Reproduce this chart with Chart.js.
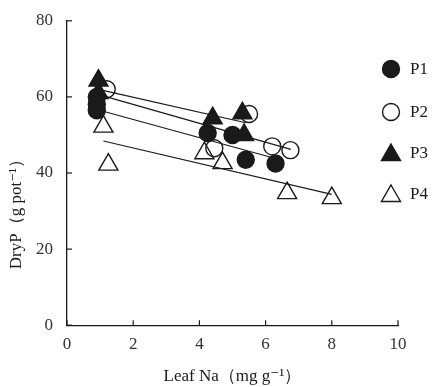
<!DOCTYPE html>
<html>
<head>
<meta charset="utf-8">
<script src="https://cdn.jsdelivr.net/npm/chart.js@4/dist/chart.umd.min.js"></script>
<style>
  html, body { margin: 0; padding: 0; background: #fff; }
  #wrap { width: 433px; height: 387px; }
</style>
</head>
<body>
<div id="wrap"><canvas id="myChart" width="433" height="387"></canvas></div>
<script>
// values
const xTicks = [0, 2, 4, 6, 8, 10];
const yTicks = [0, 20, 40, 60, 80];

const p1X = [0.9, 0.9, 0.9, 4.25, 5.0, 5.4, 6.3];
const p1Y = [60, 58, 56.5, 50.5, 50, 43.5, 42.5];
const p2X = [1.2, 4.45, 5.5, 6.2, 6.75];
const p2Y = [62, 46.5, 55.5, 47, 46];
const p3X = [0.95, 0.95, 4.4, 5.3, 5.35];
const p3Y = [64.3, 61, 54.4, 55.7, 50];
const p4X = [1.1, 1.25, 4.15, 4.7, 6.65, 8.0];
const p4Y = [52.2, 42.2, 45.2, 42.6, 34.7, 33.4];

// fitted lines, end points
const fitP1X = [0.9, 6.3], fitP1Y = [56.7, 43.8];
const fitP2X = [1.2, 6.76], fitP2Y = [60.0, 46.2];
const fitP3X = [0.95, 5.4], fitP3Y = [62.0, 53.2];
const fitP4X = [1.1, 8.0], fitP4Y = [48.4, 34.4];

const seriesNames = ['P1', 'P2', 'P3', 'P4'];

const toPts = (xs, ys) => xs.map((x, i) => ({x: x, y: ys[i]}));
const serif = "'Liberation Serif', 'DejaVu Serif', serif";
const ink = '#1a1a1a';

function markSet(label, xs, ys, style, filled, order) {
	return {
		label: label,
		data: toPts(xs, ys),
		pointStyle: style,
		pointRadius: style === 'triangle' ? 11 : 8.5,
		pointBorderWidth: 1.4,
		pointBorderColor: ink,
		pointBackgroundColor: filled ? ink : 'rgba(0,0,0,0)',
		showLine: false,
		order: order
	};
}
function fitSet(xs, ys) {
	return {
		label: 'fit',
		data: toPts(xs, ys),
		showLine: true,
		borderColor: ink,
		borderWidth: 1.2,
		pointRadius: 0,
		order: 10
	};
}

function drawMark(ctx, style, filled, x, y) {
	ctx.beginPath();
	if (style === 'circle') {
		ctx.arc(x, y, 8.5, 0, Math.PI * 2);
	} else {
		const r = 11;
		ctx.moveTo(x, y - r);
		ctx.lineTo(x + Math.sin(Math.PI * 2 / 3) * r, y + r / 2);
		ctx.lineTo(x - Math.sin(Math.PI * 2 / 3) * r, y + r / 2);
		ctx.closePath();
	}
	ctx.lineWidth = 1.4;
	ctx.strokeStyle = ink;
	if (filled) { ctx.fillStyle = ink; ctx.fill(); }
	ctx.stroke();
}

// inward ticks, y title and the legend on the right
const extras = {
	id: 'extras',
	afterDraw(chart) {
		const ctx = chart.ctx;
		const xs = chart.scales.x, ys = chart.scales.y;
		ctx.save();
		ctx.strokeStyle = ink;
		ctx.lineWidth = 1.2;
		xTicks.forEach(v => {
			const px = xs.getPixelForValue(v);
			ctx.beginPath(); ctx.moveTo(px, ys.bottom); ctx.lineTo(px, ys.bottom - 5); ctx.stroke();
		});
		yTicks.forEach(v => {
			const py = ys.getPixelForValue(v);
			ctx.beginPath(); ctx.moveTo(xs.left, py); ctx.lineTo(xs.left + 5, py); ctx.stroke();
		});

		ctx.fillStyle = ink;
		ctx.font = '17px ' + serif;
		ctx.textAlign = 'center';
		ctx.textBaseline = 'middle';
		ctx.translate(17, 210);
		ctx.rotate(-Math.PI / 2);
		ctx.fillText('DryP（g pot⁻¹）', 0, 0);
		ctx.restore();

		ctx.save();
		const styles = ['circle', 'circle', 'triangle', 'triangle'];
		const fills = [true, false, true, false];
		const rows = [69, 112, 153, 194];
		ctx.font = '17px ' + serif;
		ctx.fillStyle = ink;
		ctx.textBaseline = 'middle';
		seriesNames.forEach((name, i) => {
			const yOff = styles[i] === 'triangle' ? 2 : 0;
			drawMark(ctx, styles[i], fills[i], 391, rows[i] + yOff);
			ctx.fillStyle = ink;
			ctx.fillText(name, 410, rows[i] + 1);
		});
		ctx.restore();
	}
};

const ctx = document.getElementById('myChart').getContext('2d');
new Chart(ctx, {
	type: 'scatter',
	data: {
		datasets: [
			markSet(seriesNames[0], p1X, p1Y, 'circle', true, 1),
			markSet(seriesNames[1], p2X, p2Y, 'circle', false, 3),
			markSet(seriesNames[2], p3X, p3Y, 'triangle', true, 2),
			markSet(seriesNames[3], p4X, p4Y, 'triangle', false, 4),
			fitSet(fitP1X, fitP1Y),
			fitSet(fitP2X, fitP2Y),
			fitSet(fitP3X, fitP3Y),
			fitSet(fitP4X, fitP4Y)
		]
	},
	options: {
		responsive: false,
		animation: false,
		layout: { padding: { left: 22, right: 35, top: 4, bottom: 0 } },
		plugins: { legend: { display: false }, tooltip: { enabled: false } },
		scales: {
			x: {
				type: 'linear', min: 0, max: 10,
				afterBuildTicks: s => { s.ticks = xTicks.map(v => ({value: v})); },
				grid: { display: false, drawTicks: false },
				border: { display: true, color: ink, width: 1.3 },
				ticks: { padding: 9, color: '#333', font: { family: serif, size: 17 } },
				title: {
					display: true, text: 'Leaf Na（mg g⁻¹）', color: ink,
					font: { family: serif, size: 17 }, padding: { top: 3, bottom: 0 }
				}
			},
			y: {
				type: 'linear', min: 0, max: 80,
				afterBuildTicks: s => { s.ticks = yTicks.map(v => ({value: v})); },
				grid: { display: false, drawTicks: false },
				border: { display: true, color: ink, width: 1.3 },
				ticks: { padding: 14, color: '#333', font: { family: serif, size: 17, lineHeight: 0.8 } }
			}
		}
	},
	plugins: [extras]
});
</script>
</body>
</html>
